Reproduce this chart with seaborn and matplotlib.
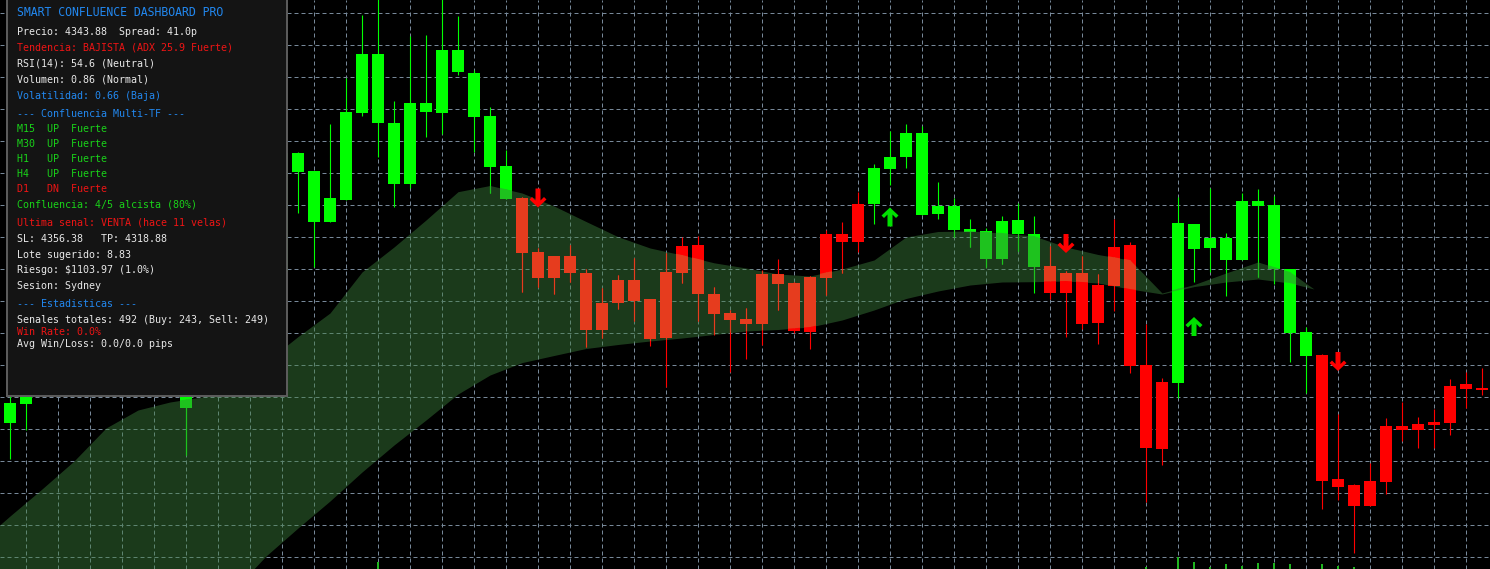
import numpy as np
import pandas as pd
import matplotlib
matplotlib.use("Agg")
import matplotlib.pyplot as plt
from matplotlib.path import Path
import seaborn as sns

sns.set_theme(style="dark", rc={"axes.facecolor": "black", "figure.facecolor": "black"})
plt.rcParams['font.family'] = ['DejaVu Sans Mono', 'DejaVu Sans']

nan = np.nan

# ============================================================
# Data : bougies (prix), bougies cachées sous le panneau = NaN
# ============================================================
opens = [4340.43, 4342.3, nan, nan, nan, nan, nan, nan, nan, nan, nan, 4341.93, nan, nan, nan, nan, nan,
         4355.5, 4365.53, 4360.53, 4360.53, 4362.7, 4371.43, 4370.43, 4364.33, 4364.33, 4371.53, 4371.43,
         4375.53, 4371.03, 4366.03, 4362.8, 4362.9, 4357.47, 4357.1, 4357.1, 4355.37, 4352.4, 4354.7,
         4354.7, 4352.8, 4355.5, 4358.1, 4358.2, 4353.3, 4351.4, 4350.8, 4355.3, 4355.27, 4354.4, 4354.97,
         4359.3, 4359.3, 4362.3, 4362.33, 4365.8, 4367.03, 4361.2, 4361.33, 4359.7, 4359.53, 4356.8,
         4356.8, 4359.33, 4356.03, 4356.1, 4355.4, 4355.4, 4354.2, 4358.0, 4358.2, 4346.2, 4344.5,
         4344.43, 4357.83, 4357.93, 4356.73, 4356.73, 4362.13, 4355.77, 4349.4, 4347.13, 4347.2,
         4334.77, 4334.2, 4334.6, 4340.1, 4340.1, 4340.3, 4340.5, 4344.1, 4344.3, 4343.9]
highs = [4343.5, 4343.9, nan, nan, nan, nan, nan, nan, nan, nan, nan, 4344.2, nan, nan, nan, nan, nan,
         4367.9, 4367.53, 4365.6, 4370.3, 4374.87, 4381.2, 4383.2, 4372.6, 4379.1, 4379.2, 4383.0,
         4381.1, 4375.7, 4371.97, 4367.7, 4363.03, 4357.87, 4357.1, 4358.2, 4355.8, 4353.9, 4355.2,
         4356.87, 4352.8, 4357.37, 4358.97, 4359.1, 4354.03, 4351.7, 4351.87, 4355.7, 4356.8, 4354.5,
         4355.1, 4359.7, 4360.5, 4363.5, 4366.3, 4369.6, 4370.3, 4370.1, 4364.5, 4362.9, 4360.8,
         4359.87, 4361.1, 4362.4, 4361.1, 4358.1, 4355.6, 4357.1, 4355.3, 4360.8, 4358.53, 4350.3,
         4344.9, 4362.97, 4360.3, 4363.87, 4359.4, 4363.43, 4363.8, 4363.1, 4355.77, 4350.03, 4347.3,
         4341.27, 4334.3, 4336.4, 4340.9, 4342.47, 4341.0, 4341.77, 4344.8, 4345.5, 4345.9]
lows = [4336.83, 4339.7, nan, nan, nan, nan, nan, nan, nan, nan, nan, 4337.2, nan, nan, nan, nan, nan,
        4354.7, 4361.43, 4356.03, 4360.53, 4362.7, 4371.13, 4367.03, 4362.03, 4363.87, 4369.03, 4369.27,
        4375.2, 4367.47, 4363.37, 4362.8, 4353.53, 4354.03, 4353.27, 4354.53, 4348.03, 4348.9, 4351.8,
        4350.63, 4348.13, 4344.03, 4354.43, 4350.63, 4349.2, 4345.53, 4346.77, 4348.2, 4351.73, 4349.37,
        4347.8, 4353.2, 4355.43, 4357.53, 4360.3, 4364.2, 4365.9, 4361.2, 4360.83, 4359.03, 4358.03,
        4356.03, 4356.3, 4357.63, 4353.43, 4352.8, 4348.97, 4349.83, 4348.33, 4351.63, 4345.43, 4332.53,
        4336.23, 4342.93, 4354.53, 4355.53, 4353.1, 4356.73, 4355.03, 4354.3, 4346.53, 4343.43, 4331.77,
        4332.7, 4327.43, 4332.13, 4333.27, 4338.63, 4337.93, 4337.93, 4339.23, 4341.9, 4343.2]
closes = [4342.4, 4343.5, nan, nan, nan, nan, nan, nan, nan, nan, nan, 4343.7, nan, nan, nan, nan, nan,
          4367.4, 4367.37, 4365.6, 4362.9, 4371.5, 4377.3, 4377.3, 4370.4, 4372.4, 4372.4, 4377.7,
          4377.7, 4375.4, 4371.1, 4366.1, 4357.43, 4354.95, 4354.95, 4355.43, 4349.7, 4349.7, 4352.43,
          4352.6, 4348.83, 4348.93, 4355.43, 4353.33, 4351.33, 4350.7, 4350.33, 4350.33, 4354.33, 4349.57,
          4349.53, 4354.93, 4358.53, 4358.53, 4365.9, 4367.0, 4369.4, 4369.4, 4362.1, 4362.1, 4359.8,
          4359.6, 4360.6, 4360.7, 4359.3, 4353.43, 4353.43, 4350.33, 4350.43, 4354.13, 4346.1, 4337.93,
          4337.83, 4360.43, 4360.3, 4358.9, 4358.9, 4362.6, 4362.6, 4362.2, 4355.77, 4349.47, 4334.63,
          4334.03, 4332.13, 4332.13, 4334.53, 4339.73, 4339.73, 4340.2, 4340.4, 4343.8, 4343.75]
# couleur de tendance par bougie (u = haussier, d = baissier)
trend = ("uuuuuuuuuuuuuuuuuuuuuuuuuuuuuuuu" "dddddddddddddddddddddd" "uuuuuuuuuuu"
         "dddddddd" "uuuuuuuuu" "ddddddddddd")

# nuage (bande verte)
cloud_idx = [-1, 0, 2, 4, 6, 8, 10, 12, 14, 16, 18, 20, 22, 24, 26, 28, 30, 32, 34, 36, 38, 40, 42,
             44, 46, 48, 50, 52, 54, 56, 58, 60, 62, 64, 66, 68, 70, 72, 74, 76, 78, 80, 81.5]
cloud_up = [4329.7, 4331.1, 4333.8, 4336.6, 4339.9, 4341.7, 4342.5, 4343.0, 4344.5, 4346.5, 4349.04,
            4351.4, 4355.5, 4358.0, 4360.7, 4363.53, 4364.15, 4363.4, 4362.1, 4360.55, 4359.03, 4357.9,
            4357.2, 4356.42, 4355.9, 4355.3, 4355.1, 4355.8, 4356.7, 4359.0, 4359.55, 4359.6, 4359.4,
            4359.1, 4358.0, 4357.25, 4356.7, 4353.4, 4354.24, 4355.4, 4356.5, 4355.5, 4353.8]
cloud_lo = [4310.7, 4311.2, 4312.7, 4313.7, 4315.2, 4316.7, 4318.2, 4320.2, 4323.7, 4327.1, 4329.9,
            4332.6, 4335.5, 4338.2, 4340.7, 4343.3, 4345.2, 4346.44, 4347.15, 4347.85, 4348.25, 4348.6,
            4348.9, 4349.25, 4349.6, 4349.75, 4350.0, 4350.7, 4351.7, 4352.85, 4353.6, 4354.2, 4354.5,
            4354.53, 4354.6, 4354.4, 4353.8, 4353.3, 4354.04, 4354.5, 4354.8, 4354.4, 4353.8]

# signaux
buy_idx = [55, 74]
buy_price = [4361.0, 4350.05]
sell_idx = [33, 66, 83]
sell_price = [4362.9, 4358.35, 4346.55]

# histogramme du sous-graphique (sommets visibles en bas)
hist_idx = [23, 71, 73, 74, 75, 76, 77, 78, 79, 80, 82, 83, 84]
hist_top = [4326.5, 4326.03, 4326.97, 4326.5, 4326.03, 4326.27, 4326.13, 4326.37, 4326.37, 4326.27,
            4326.27, 4326.13, 4326.03]

# panneau
panel_lines = [
    "SMART CONFLUENCE DASHBOARD PRO",
    "Precio: 4343.88  Spread: 41.0p",
    "Tendencia: BAJISTA (ADX 25.9 Fuerte)",
    "RSI(14): 54.6 (Neutral)",
    "Volumen: 0.86 (Normal)",
    "Volatilidad: 0.66 (Baja)",
    "--- Confluencia Multi-TF ---",
    "M15  UP  Fuerte",
    "M30  UP  Fuerte",
    "H1   UP  Fuerte",
    "H4   UP  Fuerte",
    "D1   DN  Fuerte",
    "Confluencia: 4/5 alcista (80%)",
    "Ultima senal: VENTA (hace 11 velas)",
    "SL: 4356.38   TP: 4318.88",
    "Lote sugerido: 8.83",
    "Riesgo: $1103.97 (1.0%)",
    "Sesion: Sydney",
    "--- Estadisticas ---",
    "Senales totales: 492 (Buy: 243, Sell: 249)",
    "Win Rate: 0.0%",
    "Avg Win/Loss: 0.0/0.0 pips",
]
BLUE, WHITE, RED, GREEN = "#2288F0", "#E8E8E8", "#EE1414", "#19D219"
panel_colors = [BLUE, WHITE, RED, WHITE, WHITE, BLUE, BLUE, GREEN, GREEN, GREEN, GREEN, RED, GREEN,
                RED, WHITE, WHITE, WHITE, WHITE, BLUE, WHITE, RED, WHITE]
panel_y = [12.3, 31.7, 47.3, 63, 79, 95.7, 113.7, 129.3, 144.3, 159.3, 174.3, 189.3, 204.3, 222.3,
           238.7, 254.7, 270.3, 286, 304.3, 320.3, 332, 344.3]

df = pd.DataFrame({"open": opens, "high": highs, "low": lows, "close": closes,
                   "trend": list(trend)})
df["idx"] = np.arange(len(df))
df = df.dropna()
df["bottom"] = df[["open", "close"]].min(axis=1)
df["height"] = (df["close"] - df["open"]).abs().clip(lower=0.1)

# ============================================================
# Figure
# ============================================================
W, H = 1490, 569
fig = plt.figure(figsize=(W / 100, H / 100), dpi=100)
ax = fig.add_axes([0, 0, 1, 1])
ax.set_facecolor("black")
for s in ax.spines.values():
    s.set_visible(False)

ax.set_xlim(-0.625, 92.5)
ax.set_ylim(4325.8, 4382.7)
ax.set_xticks(np.arange(1, 93, 2))
ax.set_yticks(4381.4 - 3.2 * np.arange(18))
ax.tick_params(length=0, labelbottom=False, labelleft=False)
ax.set_axisbelow(True)
ax.grid(True, color="#778899", linestyle=(0, (4, 3)), linewidth=0.72)

cloud = ax.fill_between(cloud_idx, cloud_lo, cloud_up, color="#3E813E", alpha=0.45, lw=0, zorder=1)
cloud_path = cloud.get_paths()[0]

up = df[df["trend"] == "u"]
dn = df[df["trend"] == "d"]

# bougies normales puis bougies dans le nuage (couleurs atténuées)
for sub, col_out, col_in in [(up, "#00FF00", "#1EC21E"), (dn, "#FF0000", "#E63C1E")]:
    for col, z, clip in [(col_out, 3, False), (col_in, 3.5, True)]:
        w = ax.vlines(sub["idx"], sub["low"], sub["high"], colors=col, linewidth=0.8, zorder=z)
        b = ax.bar(sub["idx"], sub["height"], bottom=sub["bottom"], width=0.69, color=col,
                   linewidth=0, zorder=z)
        if clip:
            w.set_clip_path(cloud_path, ax.transData)
            for p in b.patches:
                p.set_clip_path(cloud_path, ax.transData)

ax.bar(hist_idx, np.array(hist_top) - 4320, bottom=4320, width=0.16, color="#1FB51F",
       linewidth=0, zorder=2)

# flèches
arrow_v = [(0, 9.5), (8.5, 1.5), (6.0, -1.0), (2.5, 2.5), (2.5, -9.5), (-2.5, -9.5),
           (-2.5, 2.5), (-6.0, -1.0), (-8.5, 1.5), (0, 9.5)]
up_arrow = Path(arrow_v, closed=True)
down_arrow = Path([(x, -y) for x, y in arrow_v], closed=True)
sns.scatterplot(x=buy_idx, y=buy_price, marker=up_arrow, s=187, color="#00E000",
                edgecolor="none", linewidth=0, zorder=5, legend=False, ax=ax)
sns.scatterplot(x=sell_idx, y=sell_price, marker=down_arrow, s=187, color="#FF0000",
                edgecolor="none", linewidth=0, zorder=5, legend=False, ax=ax)
ax.set_xlim(-0.625, 92.5)
ax.set_ylim(4325.8, 4382.7)
ax.set_xlabel("")
ax.set_ylabel("")

# ============================================================
# Panneau d'information
# ============================================================
pax = fig.add_axes([7 / W, 1 - 396 / H, 280 / W, 396 / H])
pax.set_facecolor("#141414")
pax.set_xlim(0, 280)
pax.set_ylim(396, 0)
pax.set_xticks([])
pax.set_yticks([])
pax.grid(False)
for name, s in pax.spines.items():
    s.set_color("#5E5E5E")
    s.set_linewidth(1.4)
pax.spines["top"].set_visible(False)

for i, (txt, col, y) in enumerate(zip(panel_lines, panel_colors, panel_y)):
    pax.text(10, y, txt, color=col, fontsize=8.3 if i == 0 else 7.2, va="center", ha="left",
             family="DejaVu Sans Mono")

fig.savefig("out.png", dpi=100, facecolor="black")
